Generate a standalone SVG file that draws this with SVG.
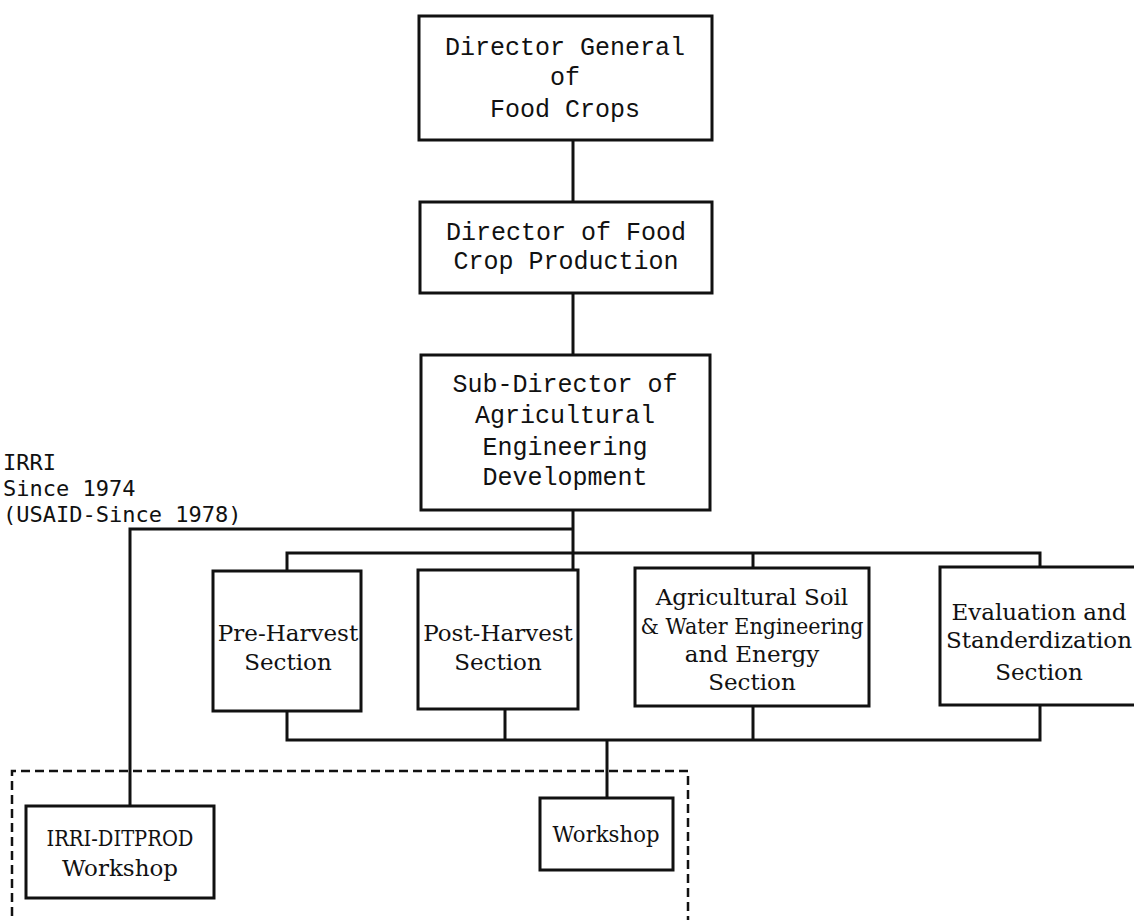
<svg xmlns="http://www.w3.org/2000/svg" width="1134" height="920" viewBox="0 0 1134 920">
<style>
.box{fill:#fff;stroke:#111;stroke-width:3}
.ln{fill:none;stroke:#111;stroke-width:3}
.dash{fill:none;stroke:#111;stroke-width:2.5;stroke-dasharray:9 5}
.mono{font-family:"Liberation Mono","Courier New",monospace;font-size:25px;fill:#111;text-anchor:middle}
.irri{font-family:"DejaVu Sans Mono","Liberation Mono",monospace;font-size:22px;fill:#111}
.ser{font-family:"DejaVu Serif","Liberation Serif",serif;font-size:23px;fill:#111;text-anchor:middle}
</style>
<rect width="1134" height="920" fill="#fff"/>
<g id="connectors">
<line class="ln" x1="573" y1="140" x2="573" y2="202"/>
<line class="ln" x1="573" y1="293" x2="573" y2="355"/>
<polyline class="ln" points="573,510 573,570"/>
<polyline class="ln" points="573,529 130,529 130,806"/>
<polyline class="ln" points="287,571 287,553 1040,553 1040,567"/>
<line class="ln" x1="753" y1="553" x2="753" y2="568"/>
<polyline class="ln" points="287,711 287,740 1040,740 1040,705"/>
<line class="ln" x1="505" y1="709" x2="505" y2="740"/>
<line class="ln" x1="753" y1="706" x2="753" y2="740"/>
<line class="ln" x1="607" y1="740" x2="607" y2="798"/>
</g>
<g id="group-boundary">
<polyline class="dash" points="12,930 12,771 688,771 688,930"/>
</g>
<g id="director-general">
<rect class="box" x="419" y="16" width="293" height="124"/>
<text class="mono" x="565" y="55">Director General</text>
<text class="mono" x="565" y="85">of</text>
<text class="mono" x="565" y="117">Food Crops</text>
</g>
<g id="director-food-crop">
<rect class="box" x="420" y="202" width="292" height="91"/>
<text class="mono" x="566" y="240">Director of Food</text>
<text class="mono" x="566" y="269">Crop Production</text>
</g>
<g id="sub-director">
<rect class="box" x="421" y="355" width="289" height="155"/>
<text class="mono" x="565" y="392">Sub-Director of</text>
<text class="mono" x="565" y="423">Agricultural</text>
<text class="mono" x="565" y="455">Engineering</text>
<text class="mono" x="565" y="485">Development</text>
</g>
<g id="irri-label">
<text class="irri" x="3" y="470">IRRI</text>
<text class="irri" x="3" y="496">Since 1974</text>
<text class="irri" x="3" y="522">(USAID-Since 1978)</text>
</g>
<g id="pre-harvest">
<rect class="box" x="213" y="571" width="148" height="140"/>
<text class="ser" x="288" y="641">Pre-Harvest</text>
<text class="ser" x="288" y="670">Section</text>
</g>
<g id="post-harvest">
<rect class="box" x="418" y="570" width="160" height="139"/>
<text class="ser" x="498" y="641">Post-Harvest</text>
<text class="ser" x="498" y="670">Section</text>
</g>
<g id="soil-water">
<rect class="box" x="635" y="568" width="234" height="138"/>
<text class="ser" x="752" y="605">Agricultural Soil</text>
<text class="ser" x="752" y="634" textLength="223" lengthAdjust="spacingAndGlyphs">&amp; Water Engineering</text>
<text class="ser" x="752" y="662">and Energy</text>
<text class="ser" x="752" y="690">Section</text>
</g>
<g id="evaluation">
<rect class="box" x="940" y="567" width="210" height="138"/>
<text class="ser" x="1039" y="620">Evaluation and</text>
<text class="ser" x="1039" y="648">Standerdization</text>
<text class="ser" x="1039" y="680">Section</text>
</g>
<g id="irri-ditprod">
<rect class="box" x="26" y="806" width="188" height="92"/>
<text class="ser" x="120" y="846" textLength="147" lengthAdjust="spacingAndGlyphs">IRRI-DITPROD</text>
<text class="ser" x="120" y="876">Workshop</text>
</g>
<g id="workshop">
<rect class="box" x="540" y="798" width="133" height="72"/>
<text class="ser" x="606" y="842" textLength="107" lengthAdjust="spacingAndGlyphs">Workshop</text>
</g>
</svg>
